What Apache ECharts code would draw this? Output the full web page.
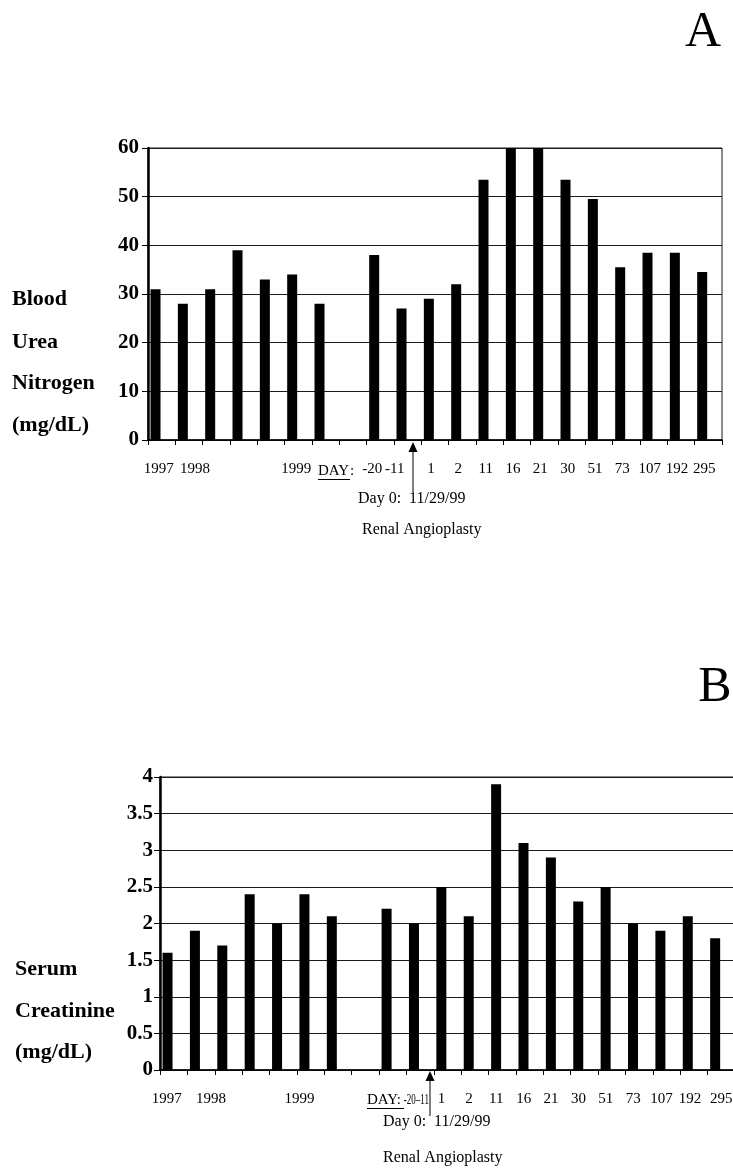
<!DOCTYPE html>
<html>
<head>
<meta charset="utf-8">
<script src="https://cdn.jsdelivr.net/npm/echarts@6/dist/echarts.min.js"></script>
<style>
html, body { margin: 0; padding: 0; background: #fff; }
#chart { width: 733px; height: 1168px; }
</style>
</head>
<body>
<div id="chart"></div>
<script>
// x slots: 7 yearly values, one blank slot, then days relative to angioplasty
var labelsA = ['1997', '1998', '', '', '', '1999', '', '', '-20', '-11', '1', '2', '11', '16', '21', '30', '51', '73', '107', '192', '295'];
var labelsB = ['1997', '1998', '', '', '', '1999', '', '', '', '', '1', '2', '11', '16', '21', '30', '51', '73', '107', '192', '295'];

// Blood urea nitrogen (mg/dL)
var bun = [31, 28, 31, 39, 33, 34, 28, null, 38, 27, 29, 32, 53.5, 60, 60, 53.5, 49.5, 35.5, 38.5, 38.5, 34.5];
// Serum creatinine (mg/dL)
var creat = [1.6, 1.9, 1.7, 2.4, 2.0, 2.4, 2.1, null, 2.2, 2.0, 2.5, 2.1, 3.9, 3.1, 2.9, 2.3, 2.5, 2.0, 1.9, 2.1, 1.8];

var serif = "'Liberation Serif', 'Times New Roman', serif";

// the scanned labels are not centred on their slots: pad them left or right
function shifter(extra, base) {
    return function (v, i) {
        if (!v) return '';
        var s = extra[i] != null ? extra[i] : base;
        if (s < 0) return '{s' + (-s) + '| }{t|' + v + '}';
        return '{t|' + v + '}{s' + s + '| }';
    };
}
function spacers() {
    var r = {t: {fontFamily: serif, fontSize: 15, color: '#000'}};
    for (var w = 0; w <= 30; w += 2) r['s' + w] = {width: w, fontSize: 15};
    return r;
}

function yAxis(idx, max, step, margin) {
    return {
        gridIndex: idx, type: 'value', min: 0, max: max, interval: step,
        axisLine: {show: true, lineStyle: {color: '#000', width: 2.5}},
        axisTick: {show: true, length: 6, lineStyle: {color: '#000', width: 1}},
        axisLabel: {margin: margin, fontFamily: serif, fontWeight: 'bold', fontSize: 21, color: '#000'},
        splitLine: {show: true, lineStyle: {color: '#1a1a1a', width: 1}}
    };
}
function xAxis(idx, data, fmt) {
    return {
        gridIndex: idx, type: 'category', data: data, boundaryGap: true,
        axisLine: {lineStyle: {color: '#000', width: 1.5}},
        axisTick: {show: true, length: 5, interval: 0, lineStyle: {color: '#000'}},
        axisLabel: {interval: 0, margin: 22, hideOverlap: false, formatter: fmt, rich: spacers()},
        splitLine: {show: false}
    };
}

function txt(s, x, y, size, bold, align, sx) {
    return {
        type: 'text', x: x, y: y, scaleX: sx || 1, silent: true,
        style: {
            text: s, fill: '#000',
            font: (bold ? 'bold ' : '') + size + 'px ' + serif,
            align: align || 'left', verticalAlign: 'middle',
            textAlign: align || 'left', textVerticalAlign: 'middle'
        }
    };
}
function line(x1, y1, x2, y2, w) {
    return {type: 'line', silent: true, shape: {x1: x1, y1: y1, x2: x2, y2: y2},
            style: {stroke: '#000', lineWidth: w || 1}};
}
function arrowHead(x, y) {
    return {type: 'polygon', silent: true, shape: {points: [[x, y], [x - 4.5, y + 10], [x + 4.5, y + 10]]},
            style: {fill: '#000'}};
}

var chart = echarts.init(document.getElementById('chart'), null, {renderer: 'canvas'});
chart.setOption({
    animation: false,
    backgroundColor: '#fff',
    grid: [
        {left: 148, top: 148, width: 574, height: 292, show: true, borderColor: '#1a1a1a', borderWidth: 1,
         containLabel: false, outerBoundsMode: 'none'},
        {left: 160, top: 777, width: 575, height: 293, show: true, borderColor: '#1a1a1a', borderWidth: 1,
         containLabel: false, outerBoundsMode: 'none'}
    ],
    xAxis: [
        xAxis(0, labelsA, shifter({0: 6, 1: -12, 5: 4, 8: 16, 9: 26}, 8)),
        xAxis(1, labelsB, shifter({0: 14, 1: -20, 5: 22, 18: 10, 19: 8, 20: 0}, 12))
    ],
    yAxis: [yAxis(0, 60, 10, 9), yAxis(1, 4, 0.5, 7)],
    series: [
        {type: 'bar', xAxisIndex: 0, yAxisIndex: 0, data: bun, barWidth: 10, barGap: '23%',
         itemStyle: {color: '#000'}},
        {type: 'bar', xAxisIndex: 0, yAxisIndex: 0, data: [], barWidth: 10},
        {type: 'bar', xAxisIndex: 1, yAxisIndex: 1, data: creat, barWidth: 10, barGap: '23%',
         itemStyle: {color: '#000'}},
        {type: 'bar', xAxisIndex: 1, yAxisIndex: 1, data: [], barWidth: 10}
    ],
    graphic: [
        txt('A', 703, 33, 50, false, 'center'),
        txt('B', 715, 688, 50, false, 'center'),

        txt('Blood', 12, 299, 22, true),
        txt('Urea', 12, 342, 22, true),
        txt('Nitrogen', 12, 383, 22, true),
        txt('(mg/dL)', 12, 425, 22, true),

        txt('Serum', 15, 969, 22, true),
        txt('Creatinine', 15, 1011, 22, true),
        txt('(mg/dL)', 15, 1052, 22, true),

        txt('DAY', 318, 471, 15),
        txt(':', 350, 471, 15),
        line(318, 479.5, 350, 479.5),
        arrowHead(413, 442),
        line(413, 450, 413, 492),
        txt('Day 0:  11/29/99', 358, 499, 16),
        txt('Renal Angioplasty', 362, 530, 16),

        txt('DAY:', 367, 1100, 15),
        line(367, 1108.5, 404, 1108.5),
        txt('-20\u201311', 429, 1100, 15, false, 'right', 0.6),
        arrowHead(430, 1071),
        line(430, 1079, 430, 1116),
        txt('Day 0:  11/29/99', 383, 1122, 16),
        txt('Renal Angioplasty', 383, 1158, 16)
    ]
});
</script>
</body>
</html>
